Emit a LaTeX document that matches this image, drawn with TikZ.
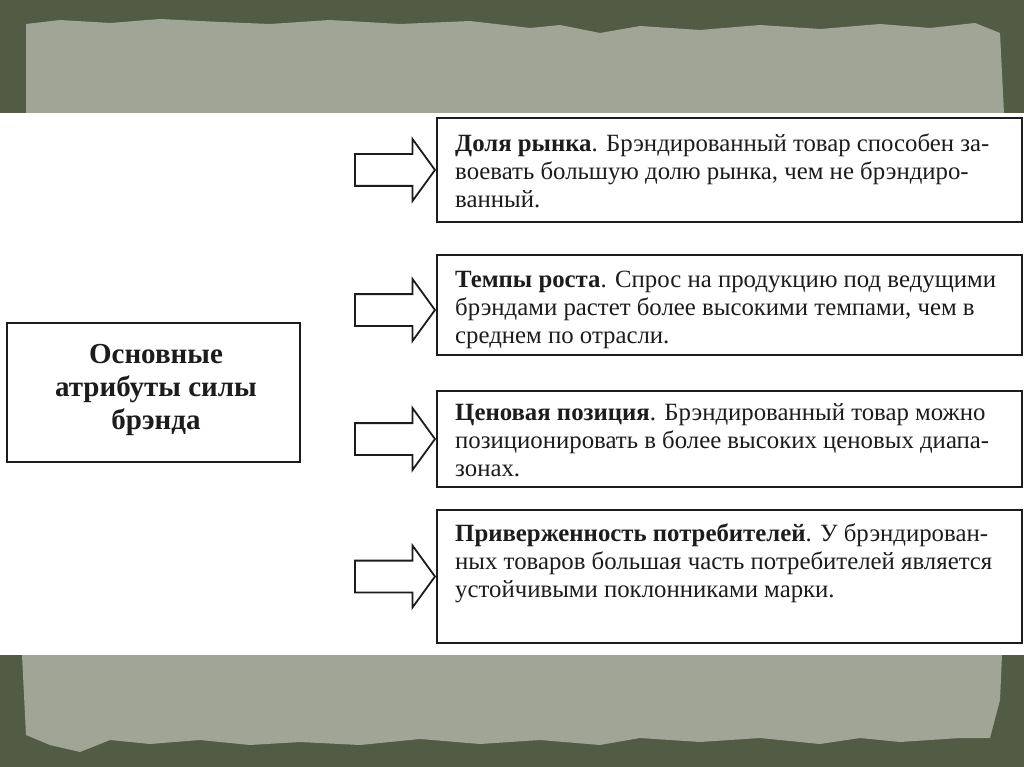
\documentclass[tikz,border=0pt]{standalone}
\usepackage{fontspec}
\setmainfont{Liberation Serif}
\usetikzlibrary{shapes.arrows,calc}
\definecolor{frame}{RGB}{82,92,68}
\definecolor{paper}{RGB}{160,165,150}
\definecolor{ink}{RGB}{28,28,28}
\tikzset{
  x=1pt,y=-1pt,
  box/.style={draw=ink,line width=1.8pt,rectangle,inner sep=0pt,fill=white},
  boxtext/.style={text=ink,align=left,anchor=west,inner sep=0pt,
    font=\fontsize{24.8}{28}\selectfont},
  maintext/.style={text=ink,align=center,inner sep=0pt,
    font=\fontsize{29}{33}\selectfont\bfseries},
  blockarrow/.style={single arrow,draw=ink,line width=1.8pt,fill=white,
    minimum height=80pt,minimum width=60pt,inner xsep=0pt,inner ysep=15pt,
    single arrow head extend=15pt,single arrow tip angle=108,anchor=tip}
}
\begin{document}
\begin{tikzpicture}
\useasboundingbox (0,0) rectangle (1024,767);
% background
\fill[frame] (0,0) rectangle (1024,767);
\fill[paper] (26,24) -- (60,20) -- (110,23) -- (160,19) -- (220,22) -- (270,24)
  -- (330,20) -- (400,24) -- (470,21) -- (530,28) -- (560,25) -- (600,33)
  -- (640,26) -- (700,30) -- (760,25) -- (820,29) -- (880,24) -- (930,28)
  -- (975,23) -- (1000,33) -- (1004,113) -- (26,113) -- cycle;
\fill[paper] (22,655) -- (1002,655) -- (1000,700) -- (990,738) -- (960,738)
  -- (900,742) -- (860,738) -- (820,744) -- (760,738) -- (700,742) -- (640,738)
  -- (600,745) -- (540,740) -- (480,744) -- (420,739) -- (360,745) -- (300,742)
  -- (250,745) -- (200,740) -- (150,744) -- (110,740) -- (80,752) -- (50,745)
  -- (26,735) -- cycle;
\fill[white] (0,113) rectangle (1024,655);
% left box
\node[box,minimum width=293pt,minimum height=139pt] (main) at (153.5,392.5) {};
\node[maintext] (maint) at (156,390) {Основные\\атрибуты силы\\брэнда};
% right boxes
\node[box,minimum width=585pt,minimum height=104pt] (b1) at (729.5,170) {};
\node[box,minimum width=585pt,minimum height=100pt] (b2) at (729.5,305) {};
\node[box,minimum width=585pt,minimum height=96pt] (b3) at (729.5,439) {};
\node[box,minimum width=585pt,minimum height=133pt] (b4) at (729.5,576.5) {};
\node[boxtext] (t1) at (455,171) {\textbf{Доля рынка}. Брэндированный товар способен за-\\воевать большую долю рынка, чем не брэндиро-\\ванный.};
\node[boxtext] (t2) at (455,310) {\textbf{Темпы роста}. Спрос на продукцию под ведущими\\брэндами растет более высокими темпами, чем в\\среднем по отрасли.};
\node[boxtext] (t3) at (455,440) {\textbf{Ценовая позиция}. Брэндированный товар можно\\позиционировать в более высоких ценовых диапа-\\зонах.};
\node[boxtext] (t4) at (455,563) {\textbf{Приверженность потребителей}. У брэндирован-\\ных товаров большая часть потребителей является\\устойчивыми поклонниками марки.};
% arrows
\node[blockarrow] (a1) at (b1.west) {};
\node[blockarrow] (a2) at ($(b2.west)+(0,5)$) {};
\node[blockarrow] (a3) at (b3.west) {};
\node[blockarrow] (a4) at (b4.west) {};
\end{tikzpicture}
\end{document}
